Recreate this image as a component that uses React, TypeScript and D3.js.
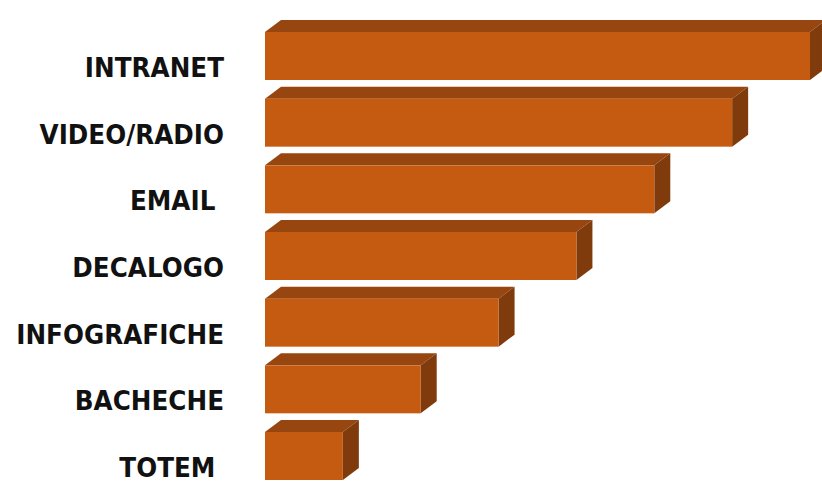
import React from "react";
import * as d3 from "d3";

const categories = ["INTRANET", "VIDEO/RADIO", "EMAIL ", "DECALOGO", "INFOGRAFICHE", "BACHECHE", "TOTEM "];
const values = [7, 6, 5, 4, 3, 2, 1];

const W = 822;
const H = 483;
const DX = 16;
const DY = 12;

export default function App() {
  const x = d3.scaleLinear().domain([0, 7]).range([265, 810]);
  const y = d3
    .scaleBand<string>()
    .domain(categories)
    .range([22.67, 489.33])
    .paddingInner(0.28)
    .paddingOuter(0.14);
  const bw = y.bandwidth();

  return (
    <svg
      width={W}
      height={H}
      style={{ position: "absolute", left: 0, top: 0, display: "block", background: "#fff" }}
    >
      {categories.map((c, i) => {
        const y0 = y(c) as number;
        const x0 = x(0);
        const x1 = x(values[i]);
        const top = d3.line()([
          [x0, y0],
          [x0 + DX, y0 - DY],
          [x1 + DX, y0 - DY],
          [x1, y0],
        ]) + "Z";
        const side = d3.line()([
          [x1, y0],
          [x1 + DX, y0 - DY],
          [x1 + DX, y0 - DY + bw],
          [x1, y0 + bw],
        ]) + "Z";
        return (
          <g key={c}>
            <path d={top} fill="#974610" />
            <path d={side} fill="#7F3B0C" />
            <rect x={x0} y={y0} width={x1 - x0} height={bw} fill="#C55A11" />
            <g transform={`translate(224,${y0 + 45}) scale(0.95,1)`}>
              <text
                x={0}
                y={0}
                textAnchor="end"
                fontFamily="'DejaVu Sans', sans-serif"
                fontWeight="bold"
                fontSize={26}
                fill="#111"
                style={{ whiteSpace: "pre" }}
              >
                {c}
              </text>
            </g>
          </g>
        );
      })}
    </svg>
  );
}
